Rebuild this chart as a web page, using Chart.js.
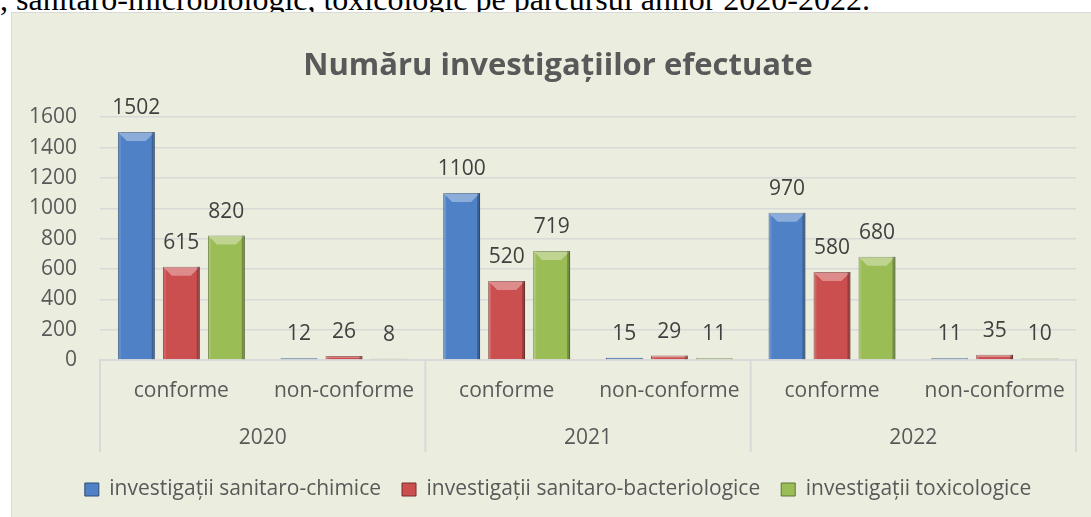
<!DOCTYPE html>
<html>
<head>
<meta charset="utf-8">
<script src="https://cdn.jsdelivr.net/npm/chart.js@4.4.1/dist/chart.umd.min.js"></script>
<style>
  html, body { margin: 0; padding: 0; background: #ffffff; overflow: hidden; }
  body { width: 1091px; height: 517px; position: relative; }
  #caption {
    position: absolute; left: 0; top: -17px; white-space: nowrap;
    font-family: "Liberation Serif", "Times New Roman", serif;
    font-size: 32px; line-height: 32px; color: #000;
  }
  #box {
    position: absolute; left: 11px; top: 12px;
    width: 1092px; height: 507px;
    background: #ebeedf;
    border-left: 1px solid #d9d9d9; border-top: 1px solid #d9d9d9;
  }
</style>
</head>
<body>
<div id="caption">, sanitaro-microbiologic, toxicologic pe parcursul anilor 2020-2022.</div>
<div id="box"><canvas id="chart"></canvas></div>
<script>
  const categories = ["conforme", "non-conforme", "conforme", "non-conforme", "conforme", "non-conforme"];
  const years = ["2020", "2021", "2022"];
  const chimice = [1502, 12, 1100, 15, 970, 11];
  const bacteriologice = [615, 26, 520, 29, 580, 35];
  const toxicologice = [820, 8, 719, 11, 680, 10];
  const seriesNames = [
    "investigații sanitaro-chimice",
    "investigații sanitaro-bacteriologice",
    "investigații toxicologice",
  ];

  Chart.defaults.font.family = "'Open Sans', sans-serif";
  Chart.defaults.font.size = 21;
  Chart.defaults.color = "#595959";

  // bevel look on bars, like the office 3d style
  const bevelPlugin = {
    id: "bevel",
    afterDatasetsDraw(chart) {
      const ctx = chart.ctx;
      ctx.save();
      chart.data.datasets.forEach((ds, i) => {
        chart.getDatasetMeta(i).data.forEach((bar) => {
          const p = bar.getProps(["x", "y", "base", "width"], true);
          const l = p.x - p.width / 2, r = p.x + p.width / 2;
          const h = p.base - p.y;
          if (h < 3) return;
          const b = Math.min(9, h / 2);
          ctx.fillStyle = "rgba(255,255,255,0.35)";
          ctx.beginPath();
          ctx.moveTo(l, p.y);
          ctx.lineTo(r, p.y);
          ctx.lineTo(r - b, p.y + b);
          ctx.lineTo(l + b, p.y + b);
          ctx.closePath();
          ctx.fill();
          ctx.fillStyle = "rgba(255,255,255,0.12)";
          ctx.fillRect(l, p.y, 3, h);
          ctx.fillStyle = "rgba(0,0,0,0.25)";
          ctx.fillRect(r - 3, p.y, 3, h);
        });
      });
      ctx.restore();
    },
  };

  // value labels above the bars
  const valuePlugin = {
    id: "values",
    afterDatasetsDraw(chart) {
      const ctx = chart.ctx;
      ctx.save();
      ctx.font = "21px 'Open Sans', sans-serif";
      ctx.fillStyle = "#404040";
      ctx.textAlign = "center";
      ctx.textBaseline = "alphabetic";
      chart.data.datasets.forEach((ds, i) => {
        chart.getDatasetMeta(i).data.forEach((bar, j) => {
          ctx.fillText(ds.data[j], bar.x, bar.y - 18);
        });
      });
      ctx.restore();
    },
  };

  // separators between the year groups on the category axis
  const dividerPlugin = {
    id: "dividers",
    afterDraw(chart) {
      const xs = chart.scales.x;
      const x2 = chart.scales.x2;
      const step = xs.width / categories.length;
      const ctx = chart.ctx;
      ctx.save();
      ctx.strokeStyle = "#d9d9d9";
      ctx.lineWidth = 2;
      for (let k = 0; k <= categories.length; k += 2) {
        const x = xs.left + k * step;
        ctx.beginPath();
        ctx.moveTo(x, xs.top);
        ctx.lineTo(x, x2.top + 40);
        ctx.stroke();
      }
      ctx.restore();
    },
  };

  const ctx = document.getElementById("chart").getContext("2d");
  new Chart(ctx, {
    type: "bar",
    data: {
      labels: categories,
      datasets: [
        {
          label: seriesNames[0],
          data: chimice,
          backgroundColor: "#4f81c7",
          borderColor: "#2c4d75",
          borderWidth: 1,
        },
        {
          label: seriesNames[1],
          data: bacteriologice,
          backgroundColor: "#cb4f4e",
          borderColor: "#772c2a",
          borderWidth: 1,
        },
        {
          label: seriesNames[2],
          data: toxicologice,
          backgroundColor: "#9bbd55",
          borderColor: "#5f7530",
          borderWidth: 1,
        },
      ],
    },
    options: {
      responsive: true,
      maintainAspectRatio: false,
      animation: false,
      categoryPercentage: 0.83,
      barPercentage: 0.82,
      layout: { padding: { left: 0, right: 0, top: 0, bottom: 10 } },
      plugins: {
        title: {
          display: true,
          text: "Număru investigațiilor efectuate",
          color: "#595959",
          font: { size: 31, weight: "bold" },
          padding: { top: 35, bottom: 32 },
        },
        legend: {
          position: "bottom",
          labels: {
            boxWidth: 14,
            boxHeight: 13,
            padding: 21,
            color: "#595959",
            font: { size: 21 },
          },
        },
        tooltip: { enabled: false },
      },
      scales: {
        x: {
          grid: { drawOnChartArea: false, drawTicks: false },
          border: { color: "#d9d9d9", width: 2 },
          ticks: { padding: 18, autoSkip: false, maxRotation: 0, color: "#595959" },
          afterFit: function (scale) {
            scale.height = 52;
          },
        },
        x2: {
          type: "category",
          labels: years,
          position: "bottom",
          offset: true,
          grid: { display: false, drawTicks: false },
          border: { display: false },
          ticks: { padding: 13, color: "#595959" },
          afterFit: function (scale) {
            scale.height = 46;
          },
        },
        y: {
          min: 0,
          max: 1600,
          ticks: {
            stepSize: 200,
            padding: 23,
            color: "#595959",
            callback: function (value) {
              return String(value);
            },
          },
          grid: { color: "#d9d9d9", lineWidth: 1.5, drawTicks: false },
          border: { display: false },
          afterFit: function (scale) {
            scale.width = 88;
          },
        },
        // empty right-hand space so the title and legend sit centred like the original
        yRight: {
          position: "right",
          ticks: { display: false },
          grid: { display: false, drawTicks: false },
          border: { display: false },
          afterFit: function (scale) {
            scale.width = 28;
          },
        },
      },
    },
    plugins: [bevelPlugin, valuePlugin, dividerPlugin],
  });
</script>
</body>
</html>
